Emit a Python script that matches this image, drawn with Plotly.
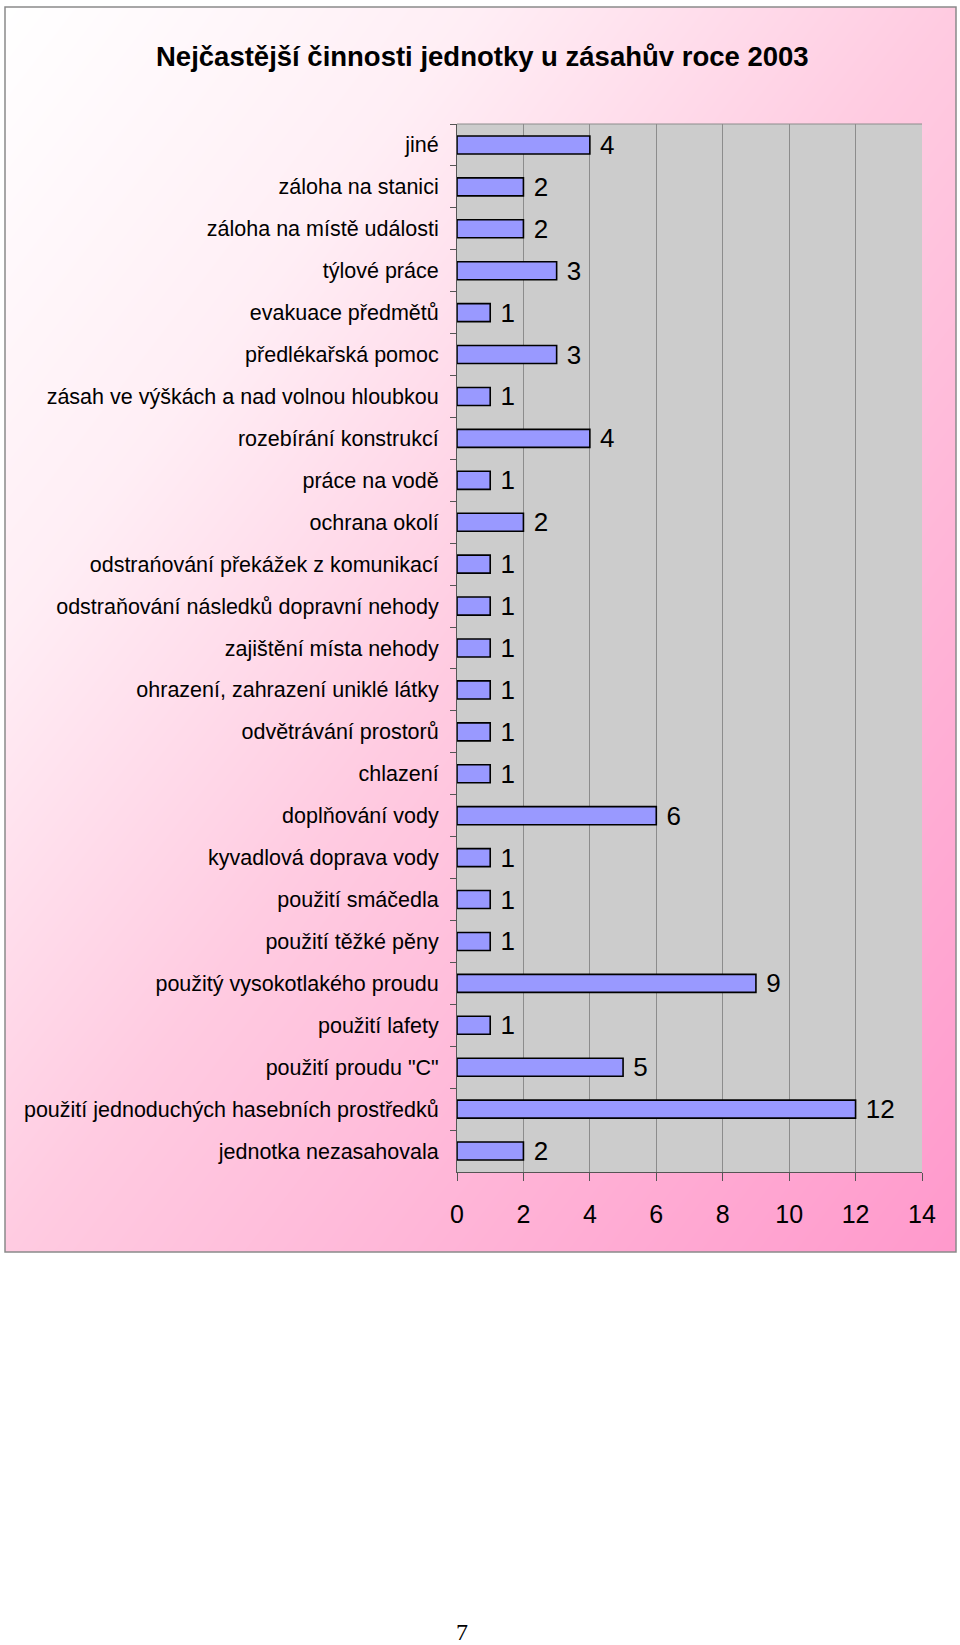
import plotly.graph_objects as go

W, H = 960, 1645

title_text = "Nejčastější činnosti jednotky u zásahův roce 2003"
categories = [
    "jiné",
    "záloha na stanici",
    "záloha na místě události",
    "týlové práce",
    "evakuace předmětů",
    "předlékařská pomoc",
    "zásah ve výškách a nad volnou hloubkou",
    "rozebírání konstrukcí",
    "práce na vodě",
    "ochrana okolí",
    "odstrańování překážek z komunikací",
    "odstraňování následků dopravní nehody",
    "zajištění místa nehody",
    "ohrazení, zahrazení uniklé látky",
    "odvětrávání prostorů",
    "chlazení",
    "doplňování vody",
    "kyvadlová doprava vody",
    "použití smáčedla",
    "použití těžké pěny",
    "použitý vysokotlakého proudu",
    "použití lafety",
    "použití proudu \"C\"",
    "použití jednoduchých hasebních prostředků",
    "jednotka nezasahovala",
]
values = [4, 2, 2, 3, 1, 3, 1, 4, 1, 2, 1, 1, 1, 1, 1, 1, 6, 1, 1, 1, 9, 1, 5, 12, 2]
x_ticks = [0, 2, 4, 6, 8, 10, 12, 14]
page_number = "7"


def px_x(p):
    return p / W


def px_y(p):
    return 1 - p / H


fig = go.Figure()

# gradient background of the chart frame (diagonal white -> pink)
fig.add_trace(go.Heatmap(
    z=[[1, 2], [0, 1]], x=[0, 1], y=[0, 1],
    zsmooth="best", showscale=False, hoverinfo="skip",
    colorscale=[[0, "#FFFFFF"], [0.25, "#FFEEF5"], [0.5, "#FFCBE1"], [0.75, "#FFB2D6"], [1, "#FF99CC"]],
    zmin=0, zmax=2, xaxis="x", yaxis="y",
))

fig.add_trace(go.Bar(
    x=values, y=categories, orientation="h",
    marker=dict(color="#9999FF", line=dict(color="#000000", width=1.6)),
    text=[f" {v}" for v in values], textposition="outside",
    constraintext="none", cliponaxis=False,
    textfont=dict(family="Liberation Sans, Arial", size=26, color="#000000"),
    xaxis="x2", yaxis="y2", hoverinfo="skip",
))

fig.update_layout(
    width=W, height=H,
    autosize=False,
    margin=dict(l=0, r=0, t=0, b=0, autoexpand=False),
    paper_bgcolor="#FFFFFF",
    plot_bgcolor="#CCCCCC",
    showlegend=False,
    bargap=0.57,
    xaxis=dict(domain=[px_x(5), px_x(956)], range=[0, 1], visible=False, fixedrange=True),
    yaxis=dict(domain=[px_y(1252), px_y(7)], range=[0, 1], visible=False, fixedrange=True),
    xaxis2=dict(
        domain=[px_x(457), px_x(922)], anchor="y2", range=[0, 14],
        tickvals=x_ticks, ticks="outside", ticklen=8, tickcolor="#555555",
        showline=True, linecolor="#555555", linewidth=1,
        showgrid=True, gridcolor="#8C8C8C", gridwidth=1, zeroline=False,
        tickfont=dict(family="Liberation Sans, Arial", size=25, color="#000000"),
        ticklabelstandoff=12, automargin=False,
    ),
    yaxis2=dict(
        domain=[px_y(1172), px_y(124)], anchor="x2",
        categoryorder="array", categoryarray=categories, autorange="reversed",
        tickson="boundaries", ticks="outside", ticklen=6, tickcolor="#555555",
        showline=True, linecolor="#555555", linewidth=1, showgrid=False,
        tickfont=dict(family="Liberation Sans, Arial", size=21.5, color="#000000"),
        ticklabelstandoff=13, automargin=False,
    ),
    shapes=[
        dict(type="rect", xref="paper", yref="paper",
             x0=px_x(5), x1=px_x(956), y0=px_y(1252), y1=px_y(7),
             line=dict(color="#8A8A8A", width=1.5), fillcolor="rgba(0,0,0,0)"),
        dict(type="line", xref="x2 domain", yref="y2 domain",
             x0=0, x1=1, y0=1, y1=1, line=dict(color="#8C8C8C", width=1)),
    ],
    annotations=[
        dict(text=f"<b>{title_text}</b>", xref="paper", yref="paper",
             x=px_x(482), y=px_y(56), xanchor="center", yanchor="middle",
             showarrow=False,
             font=dict(family="Liberation Sans, Arial", size=27.5, color="#000000")),
        dict(text=page_number, xref="paper", yref="paper",
             x=px_x(462), y=px_y(1632), xanchor="center", yanchor="middle",
             showarrow=False,
             font=dict(family="Liberation Serif, Times New Roman", size=24, color="#000000")),
    ],
)

fig.write_html(
    "out.html",
    config={"displayModeBar": False, "responsive": False, "staticPlot": True},
    post_script="document.body.style.margin='0px';document.documentElement.style.overflow='hidden';document.body.style.overflow='hidden';",
)
